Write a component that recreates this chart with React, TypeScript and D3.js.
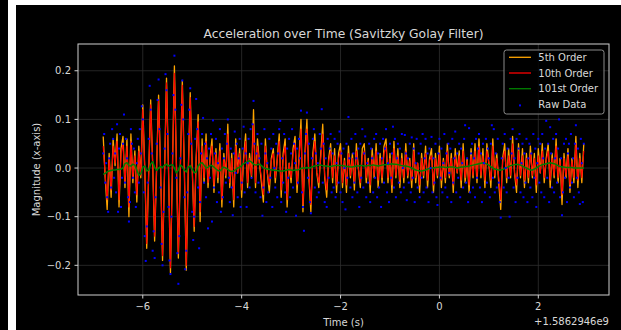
import React from "react";
import * as d3 from "d3";

// Sensor samples: timestamps are offsets (s) from 1.5862946e9, filtered signals sampled every 40 ms
const FILTER_START = -6.8;
const FILTER_STEP = 0.04;
// Raw accelerometer samples every 20 ms
const RAW_START = -6.8;
const RAW_STEP = 0.02;

const order5: number[] = [
  0.065, -0.02, -0.085, 0.03, -0.06, 0.06, 0.005, 0.07, -0.08, 0.04,
  0.065, -0.04, 0.06, -0.1, 0.07, -0.03, 0.035, -0.07, 0.045, -0.02,
  0.13, 0.0, -0.165, -0.01, 0.14, 0.01, -0.15, 0.0, 0.15, 0.0,
  -0.19, -0.01, 0.185, 0.0, -0.215, 0.0, 0.21, 0.01, -0.185, 0.0,
  0.18, 0.0, -0.21, -0.01, 0.155, 0.0, -0.13, 0.02, 0.11, -0.11,
  0.06, -0.03, 0.07, -0.04, 0.02, 0.06, -0.05, 0.04, -0.03, 0.05,
  -0.08, 0.03, -0.02, 0.09, -0.04, 0.03, -0.08, 0.06, -0.01, 0.04,
  -0.06, 0.02, 0.07, -0.04, 0.03, -0.02, 0.12, -0.04, 0.06, 0.01,
  -0.03, -0.07, 0.06, -0.01, -0.05, 0.02, 0.04, -0.03, 0.02, 0.07,
  -0.06, 0.03, 0.06, -0.08, 0.01, -0.03, 0.04, 0.065, -0.05, 0.02,
  0.1, -0.09, 0.03, 0.1, -0.02, -0.09, 0.03, 0.07, -0.01, -0.04,
  0.03, 0.09, -0.02, -0.06, 0.02, 0.05, -0.03, 0.04, -0.05, 0.03,
  0.05, -0.04, 0.02, -0.05, 0.045, -0.02, 0.03, -0.045, 0.05, 0.0,
  -0.04, 0.04, 0.05, -0.03, 0.02, -0.05, 0.04, -0.02, 0.05, -0.04,
  0.03, -0.03, 0.045, 0.06, -0.03, 0.03, -0.05, 0.055, -0.02, 0.04,
  -0.04, 0.03, -0.03, 0.05, -0.02, 0.02, -0.04, 0.05, -0.03, 0.01,
  -0.05, 0.03, -0.02, 0.045, -0.04, 0.02, 0.04, -0.05, 0.03, -0.02,
  0.045, -0.04, 0.02, -0.03, 0.05, -0.02, 0.03, -0.05, 0.04, -0.01,
  0.035, -0.04, 0.05, -0.03, 0.02, -0.05, 0.04, -0.02, 0.05, -0.03,
  0.06, -0.02, 0.04, -0.04, 0.05, 0.01, -0.04, 0.06, -0.02, 0.03,
  -0.03, -0.085, 0.02, 0.05, -0.03, 0.04, -0.02, 0.065, -0.01, -0.05,
  0.05, -0.02, 0.04, -0.04, 0.03, -0.03, 0.045, -0.02, 0.03, -0.05,
  0.04, -0.01, 0.05, -0.03, 0.02, 0.05, -0.04, 0.03, -0.02, 0.06,
  -0.03, 0.02, -0.075, 0.03, -0.02, 0.04, -0.05, 0.02, -0.03, 0.065,
  -0.04, 0.03, -0.03, 0.05,
];

const order10: number[] = [
  0.045, -0.015, -0.065, 0.02, -0.045, 0.045, 0.01, 0.055, -0.065, 0.03,
  0.05, -0.03, 0.045, -0.08, 0.055, -0.02, 0.025, -0.055, 0.035, -0.015,
  0.12, 0.0, -0.155, -0.01, 0.13, 0.01, -0.14, 0.0, 0.14, 0.0,
  -0.18, -0.01, 0.175, 0.0, -0.205, 0.0, 0.195, 0.01, -0.175, 0.0,
  0.17, 0.0, -0.2, -0.01, 0.145, 0.0, -0.12, 0.02, 0.095, -0.09,
  0.045, -0.02, 0.055, -0.03, 0.015, 0.045, -0.035, 0.03, -0.02, 0.035,
  -0.065, 0.02, -0.015, 0.07, -0.03, 0.02, -0.065, 0.045, -0.01, 0.03,
  -0.045, 0.015, 0.055, -0.03, 0.02, -0.015, 0.09, -0.03, 0.045, 0.01,
  -0.02, -0.055, 0.045, -0.01, -0.035, 0.015, 0.03, -0.02, 0.015, 0.055,
  -0.045, 0.02, 0.045, -0.065, 0.01, -0.02, 0.03, 0.05, -0.035, 0.015,
  0.08, -0.075, 0.02, 0.08, -0.015, -0.075, 0.02, 0.055, -0.01, -0.03,
  0.02, 0.07, -0.015, -0.045, 0.015, 0.035, -0.02, 0.025, -0.035, 0.02,
  0.035, -0.03, 0.015, -0.035, 0.03, -0.015, 0.02, -0.03, 0.035, 0.0,
  -0.03, 0.025, 0.035, -0.02, 0.015, -0.035, 0.025, -0.015, 0.035, -0.025,
  0.02, -0.02, 0.03, 0.045, -0.02, 0.02, -0.035, 0.04, -0.015, 0.025,
  -0.025, 0.02, -0.02, 0.035, -0.015, 0.015, -0.025, 0.035, -0.02, 0.01,
  -0.035, 0.02, -0.015, 0.03, -0.025, 0.015, 0.025, -0.035, 0.02, -0.015,
  0.03, -0.025, 0.015, -0.02, 0.035, -0.015, 0.02, -0.035, 0.025, -0.01,
  0.025, -0.025, 0.035, -0.02, 0.015, -0.035, 0.025, -0.015, 0.035, -0.02,
  0.045, -0.015, 0.025, -0.025, 0.035, 0.01, -0.025, 0.045, -0.015, 0.02,
  -0.02, -0.065, 0.015, 0.035, -0.02, 0.025, -0.015, 0.05, -0.01, -0.035,
  0.035, -0.015, 0.025, -0.025, 0.02, -0.02, 0.03, -0.015, 0.02, -0.035,
  0.025, -0.01, 0.035, -0.02, 0.015, 0.035, -0.025, 0.02, -0.015, 0.045,
  -0.02, 0.015, -0.055, 0.02, -0.015, 0.025, -0.035, 0.015, -0.02, 0.05,
  -0.025, 0.02, -0.02, 0.035,
];

const order101: number[] = [
  -0.013, -0.011, -0.008, -0.006, -0.005, -0.004, -0.004, -0.003, -0.003, -0.002,
  0.0, 0.009, 0.011, 0.005, 0.004, 0.008, 0.006, -0.004, -0.015, -0.012,
  0.002, 0.004, -0.006, -0.004, 0.008, 0.013, 0.002, -0.005, 0.0, 0.003,
  0.001, 0.006, 0.008, 0.004, 0.006, 0.007, 0.0, -0.01, -0.004, 0.006,
  0.003, -0.004, -0.008, 0.002, 0.005, -0.002, -0.01, -0.008, 0.004, 0.009,
  0.011, 0.006, 0.0, 0.002, 0.005, 0.005, 0.002, -0.002, -0.005, -0.006,
  -0.002, 0.002, 0.0, -0.003, -0.006, -0.007, -0.006, -0.003, 0.0, 0.002,
  0.005, 0.009, 0.011, 0.013, 0.015, 0.012, 0.008, 0.006, 0.007, 0.008,
  0.005, 0.001, -0.001, -0.002, -0.003, -0.004, -0.004, -0.005, -0.005, -0.006,
  -0.006, -0.006, -0.005, -0.004, -0.003, -0.004, -0.005, -0.004, -0.004, -0.003,
  -0.001, 0.0, 0.0, 0.001, 0.0, 0.001, 0.003, 0.004, 0.005, 0.006,
  0.006, 0.005, 0.004, 0.004, 0.003, 0.003, 0.004, 0.005, 0.005, 0.005,
  0.005, 0.005, 0.004, 0.003, 0.003, 0.002, 0.002, 0.003, 0.004, 0.004,
  0.005, 0.005, 0.004, 0.004, 0.005, 0.005, 0.006, 0.006, 0.005, 0.004,
  0.005, 0.006, 0.007, 0.007, 0.008, 0.008, 0.009, 0.008, 0.008, 0.007,
  0.006, 0.005, 0.004, 0.004, 0.003, 0.002, 0.0, -0.002, -0.004, -0.005,
  -0.006, -0.006, -0.005, -0.004, -0.002, -0.001, 0.0, 0.0, 0.001, 0.001,
  0.002, 0.002, 0.002, 0.001, 0.001, 0.002, 0.002, 0.002, 0.001, 0.0,
  0.001, 0.002, 0.002, 0.003, 0.003, 0.004, 0.005, 0.006, 0.007, 0.008,
  0.009, 0.01, 0.011, 0.01, 0.008, 0.006, 0.003, 0.0, -0.002, -0.003,
  -0.004, -0.004, -0.003, -0.001, 0.001, 0.003, 0.005, 0.006, 0.007, 0.008,
  0.007, 0.006, 0.004, 0.002, 0.0, -0.002, -0.004, -0.004, -0.002, 0.0,
  0.003, 0.005, 0.007, 0.008, 0.009, 0.01, 0.011, 0.01, 0.009, 0.007,
  0.005, 0.003, 0.002, 0.002, 0.001, 0.001, 0.001, 0.001, 0.0, 0.0,
  0.0, 0.0, 0.0, 0.0,
];

const rawData: number[] = [
  0.03, 0.07, -0.03, 0.01, -0.06, -0.09, 0.02, 0.05, -0.04, 0.08, 0.06, -0.02, 0.03, -0.05, 0.09, -0.09, 0.04, 0.07, -0.08, -0.02, 0.05, 0.11, -0.03, 0.06, 0.02,
  -0.06, -0.11, -0.07, 0.08, 0.05, -0.02, 0.04, -0.05, -0.08, 0.01, 0.06, -0.03, 0.08, 0.03, 0.127, 0.1, -0.05, -0.14, -0.191, -0.12, -0.03, 0.06, 0.169, 0.12, 0.03,
  -0.17, -0.13, -0.185, -0.06, 0.05, 0.14, 0.182, 0.08, -0.04, -0.156, -0.2, -0.09, 0.04, 0.193, 0.16, 0.07, -0.08, -0.19, -0.218, -0.1, 0.03, 0.15, 0.231, 0.12, -0.02,
  -0.175, -0.238, -0.14, 0.02, 0.13, 0.18, 0.1, -0.06, -0.208, -0.17, -0.05, 0.07, 0.12, 0.164, 0.05, -0.09, -0.148, -0.1, 0.06, 0.142, 0.08, -0.04, -0.165, -0.07, 0.03,
  0.07, 0.103, -0.03, 0.05, -0.06, 0.02, -0.124, 0.04, -0.02, 0.07, -0.11, 0.098, -0.04, 0.03, 0.06, -0.07, 0.01, -0.05, 0.08, -0.09, 0.04, -0.06, 0.02, 0.07, -0.03,
  0.05, 0.1, -0.02, -0.07, 0.04, -0.04, -0.097, 0.03, 0.075, -0.01, 0.05, -0.06, 0.02, 0.06, -0.08, -0.03, 0.04, 0.085, -0.05, 0.03, -0.08, 0.01, 0.06, -0.04, 0.08,
  -0.02, 0.09, 0.138, 0.05, -0.05, 0.03, 0.07, -0.03, 0.02, -0.06, 0.05, -0.098, -0.04, 0.08, 0.03, -0.07, 0.01, -0.05, 0.06, -0.02, 0.04, -0.08, 0.07, 0.0, -0.04,
  0.05, -0.06, 0.03, 0.08, 0.097, -0.07, 0.02, -0.03, 0.07, -0.05, -0.09, 0.04, -0.02, 0.06, -0.06, 0.03, 0.08, -0.04, 0.05, 0.01, -0.098, 0.04, -0.03, 0.06, 0.02,
  0.118, -0.05, -0.08, -0.129, 0.03, 0.07, 0.114, -0.02, 0.05, -0.07, -0.093, 0.02, 0.06, 0.08, -0.04, 0.03, -0.06, 0.01, -0.05, 0.07, 0.04, 0.121, -0.03, 0.05, -0.07,
  0.02, -0.08, 0.06, -0.02, 0.04, 0.07, -0.05, 0.03, -0.04, 0.06, -0.06, 0.01, 0.05, -0.03, 0.075, -0.05, 0.03, -0.07, 0.04, 0.0, -0.085, 0.05, -0.02, 0.105, 0.02,
  -0.04, 0.06, -0.06, 0.03, -0.03, 0.07, 0.02, -0.05, 0.04, -0.08, 0.05, -0.02, 0.08, -0.04, 0.03, 0.065, -0.06, 0.01, -0.03, 0.05, -0.07, 0.04, 0.02, -0.05, 0.06,
  -0.02, 0.07, -0.06, 0.03, -0.04, 0.05, -0.08, 0.02, 0.06, -0.03, 0.04, 0.08, -0.05, 0.01, -0.07, 0.05, -0.02, 0.03, 0.085, -0.04, 0.06, -0.06, 0.02, 0.05, -0.03,
  0.04, -0.05, 0.07, 0.0, -0.04, 0.068, 0.03, -0.066, 0.02, -0.03, 0.05, -0.05, 0.063, -0.02, 0.04, -0.07, 0.01, 0.06, -0.04, 0.03, -0.06, 0.05, -0.02, 0.07, -0.05,
  0.02, 0.06, -0.04, 0.03, -0.07, 0.04, 0.0, 0.064, -0.05, 0.02, -0.03, 0.05, -0.06, -0.076, 0.03, 0.06, -0.02, 0.04, -0.05, 0.01, 0.07, -0.04, 0.03, -0.06, 0.05,
  -0.01, 0.04, -0.07, 0.06, -0.03, 0.02, 0.075, -0.05, 0.03, -0.02, 0.05, -0.06, 0.04, 0.01, -0.04, 0.06, 0.088, -0.03, 0.02, -0.07, 0.082, -0.05, 0.03, 0.05, -0.04,
  0.02, -0.06, 0.06, -0.02, 0.04, 0.07, -0.04, 0.03, -0.07, 0.05, 0.01, -0.05, 0.06, -0.03, 0.04, 0.02, -0.06, 0.05, 0.088, -0.02, 0.08, -0.05, 0.03, -0.04, 0.06,
  -0.03, -0.07, -0.102, 0.02, 0.05, -0.04, 0.07, 0.0, -0.05, 0.04, -0.02, -0.1, 0.06, 0.03, 0.08, -0.04, 0.02, -0.07, 0.06, -0.02, 0.04, 0.07, -0.05, 0.01, 0.05,
  -0.06, 0.03, -0.03, 0.06, -0.07, 0.02, 0.05, -0.04, 0.03, -0.06, 0.07, -0.02, 0.04, -0.08, 0.01, 0.06, -0.03, 0.05, -0.05, 0.07, 0.02, -0.06, 0.04, 0.097, -0.02,
  0.05, -0.07, 0.084, 0.03, -0.04, 0.06, -0.05, 0.02, 0.07, -0.03, 0.04, 0.1, -0.06, 0.02, -0.097, -0.05, 0.05, -0.02, 0.06, -0.07, 0.03, 0.05, -0.04, 0.07, -0.03,
  0.02, -0.06, 0.05, 0.088, -0.02, 0.04, -0.05, -0.074, 0.06, 0.01, -0.07, 0.05,
];

const xTicks = [-6, -4, -2, 0, 2];
const yTicks = [-0.2, -0.1, 0.0, 0.1, 0.2];
const xTickLabels = ["−6", "−4", "−2", "0", "2"];
const yTickLabels = ["−0.2", "−0.1", "0.0", "0.1", "0.2"];
const legendLabels = ["5th Order", "10th Order", "101st Order", "Raw Data"];

const W = 621;
const H = 330;
const M = { left: 78, right: 609, top: 44, bottom: 295 };
const X_LIMITS: [number, number] = [-7.31, 3.43];
const Y_LIMITS: [number, number] = [-0.261, 0.255];

const FONT = "'DejaVu Sans', Verdana, sans-serif";
const TEXT = "#d8d8d8";
const ORANGE = "#ffa500";
const RED = "#ff0000";
const GREEN = "#008000";
const BLUE = "#0000ff";

type Pt = [number, number];

export default function App() {
  const x = d3.scaleLinear().domain(X_LIMITS).range([M.left, M.right]);
  const y = d3.scaleLinear().domain(Y_LIMITS).range([M.bottom, M.top]);

  const toPts = (vals: number[], start: number, step: number): Pt[] =>
    vals.map((v, i) => [start + i * step, v]);

  const line = d3
    .line<Pt>()
    .x((d) => x(d[0]))
    .y((d) => y(d[1]));

  const series = [
    { vals: order5, color: ORANGE, width: 1.3 },
    { vals: order10, color: RED, width: 1.1 },
    { vals: order101, color: GREEN, width: 1.5 },
  ];
  const rawPts = toPts(rawData, RAW_START, RAW_STEP);

  const legendColors = [ORANGE, RED, GREEN];
  const lgX = 504;
  const lgY = 50;
  const rowH = 15.7;

  return (
    <div style={{ position: "absolute", left: 0, top: 0 }}>
      <svg width={W} height={H} style={{ display: "block" }} fontFamily={FONT}>
        <rect x={0} y={0} width={W} height={H} fill="#ffffff" />
        <rect x={0} y={0} width={8} height={H} fill="#000000" />
        <rect x={16} y={5} width={W - 16} height={H - 5} fill="#000000" />

        {/* grid */}
        <g stroke="#2e2e2e" strokeWidth={0.8}>
          {xTicks.map((t) => (
            <line key={"gx" + t} x1={x(t)} x2={x(t)} y1={M.top} y2={M.bottom} />
          ))}
          {yTicks.map((t) => (
            <line key={"gy" + t} x1={M.left} x2={M.right} y1={y(t)} y2={y(t)} />
          ))}
        </g>

        {/* filtered signals */}
        {series.map((s, k) => (
          <path
            key={"s" + k}
            d={line(toPts(s.vals, FILTER_START, FILTER_STEP)) || ""}
            fill="none"
            stroke={s.color}
            strokeWidth={s.width}
            strokeLinejoin="round"
          />
        ))}

        {/* raw samples */}
        <g fill={BLUE}>
          {rawPts.map((p, i) => (
            <rect key={"r" + i} x={x(p[0]) - 1} y={y(p[1]) - 1} width={2} height={2} />
          ))}
        </g>

        {/* spines */}
        <rect
          x={M.left}
          y={M.top}
          width={M.right - M.left}
          height={M.bottom - M.top}
          fill="none"
          stroke="#cfcfcf"
          strokeWidth={1}
        />

        {/* x ticks */}
        <g fill={TEXT} fontSize={10} textAnchor="middle">
          {xTicks.map((t, i) => (
            <g key={"xt" + t}>
              <line x1={x(t)} x2={x(t)} y1={M.bottom} y2={M.bottom + 3.5} stroke="#cfcfcf" />
              <text x={x(t)} y={309.5}>
                {xTickLabels[i]}
              </text>
            </g>
          ))}
        </g>

        {/* y ticks */}
        <g fill={TEXT} fontSize={10} textAnchor="end">
          {yTicks.map((t, i) => (
            <g key={"yt" + t}>
              <line x1={M.left - 3.5} x2={M.left} y1={y(t)} y2={y(t)} stroke="#cfcfcf" />
              <text x={71} y={y(t) + 3.7}>
                {yTickLabels[i]}
              </text>
            </g>
          ))}
        </g>

        <text x={(M.left + M.right) / 2} y={37.5} fill={TEXT} fontSize={12.3} textAnchor="middle">
          Acceleration over Time (Savitzky Golay Filter)
        </text>
        <text x={(M.left + M.right) / 2} y={326} fill={TEXT} fontSize={10} textAnchor="middle">
          Time (s)
        </text>
        <text x={M.right} y={325} fill={TEXT} fontSize={10} textAnchor="end">
          +1.5862946e9
        </text>
        <text
          transform={`translate(40,${(M.top + M.bottom) / 2}) rotate(-90)`}
          fill={TEXT}
          fontSize={10}
          textAnchor="middle"
        >
          Magnitude (x-axis)
        </text>

        {/* legend */}
        <rect
          x={lgX}
          y={lgY}
          width={100}
          height={64}
          rx={2.5}
          fill="#000000"
          fillOpacity={0.8}
          stroke="#8a8a8a"
          strokeWidth={1}
        />
        {legendLabels.map((lab, i) => {
          const cy = 57.3 + i * rowH;
          return (
            <g key={"lg" + i}>
              {i < 3 ? (
                <line x1={509} x2={531} y1={cy} y2={cy} stroke={legendColors[i]} strokeWidth={1.3} />
              ) : (
                <rect x={519} y={cy} width={2} height={2} fill={BLUE} />
              )}
              <text x={538.3} y={cy + 3.7} fill={TEXT} fontSize={10}>
                {lab}
              </text>
            </g>
          );
        })}
      </svg>
    </div>
  );
}
